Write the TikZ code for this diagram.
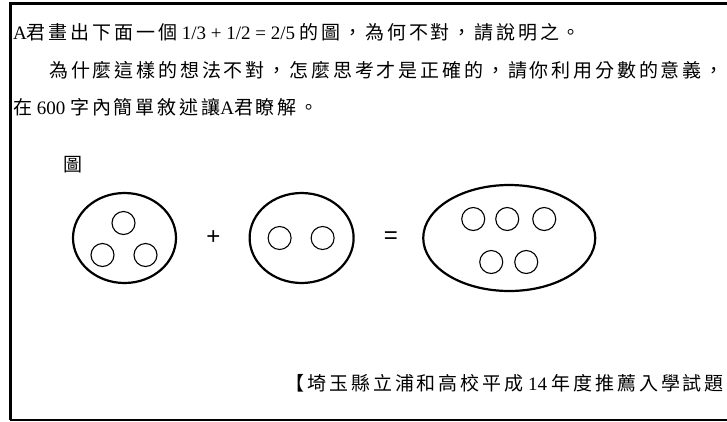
\documentclass[tikz,border=0pt]{standalone}
\usepackage{fontspec}
\setmainfont{Liberation Serif}
\newfontfamily\cjk{Noto Sans CJK TC}[LetterSpace=15]
\newfontfamily\opfont{Liberation Sans}
\usetikzlibrary{shapes,positioning}

\begin{document}
\begin{tikzpicture}[x=1pt, y=-1pt, node distance=28pt,
  txt/.style={anchor=west, inner sep=0pt, font=\fontsize{19}{19}\selectfont},
  bag/.style={draw, ellipse, line width=2.2pt, inner sep=0pt},
  ball/.style={draw, ellipse, line width=1.1pt, minimum width=23pt, minimum height=23pt, inner sep=0pt},
  op/.style={inner sep=0pt, font=\fontsize{24}{24}\selectfont\opfont}]
\useasboundingbox (0,0) rectangle (727,421);
%frame
\draw[line width=3pt] (727,3) -- (10,3) -- (10,419.5);
\draw[line width=2pt] (10,419.5) -- (727,419.5);
%text
\node[txt] (line1) at (13,32) {A{\cjk 君畫出下面一個} 1/3 + 1/2 = 2/5 {\cjk 的圖，為何不對，請說明之。}};
\node[txt] (line2) at (49,70) {{\cjk 為什麼這樣的想法不對，怎麼思考才是正確的，請你利用分數的意義，}};
\node[txt] (line3) at (13,107) {{\cjk 在} 600 {\cjk 字內簡單敘述讓}A{\cjk 君瞭解。}};
\node[txt] (fig) at (63,165) {{\cjk 圖}};
%figure
\node[bag, minimum width=103pt, minimum height=90pt] (third) at (124.5,238) {};
\node[op, right = 29pt of third] (plus) {+};
\node[bag, minimum width=104pt, minimum height=90pt, right = 28pt of plus] (half) {};
\node[op, right = 29pt of half] (equal) {=};
\node[bag, minimum width=172pt, minimum height=106pt, right = 24pt of equal] (sum) {};
\node[ball] (t1) at ([shift={(-1,-15)}]third.center) {};
\node[ball] (t2) at ([shift={(-22,17)}]third.center) {};
\node[ball] (t3) at ([shift={(21,17)}]third.center) {};
\node[ball] (h1) at ([shift={(-22,0)}]half.center) {};
\node[ball] (h2) at ([shift={(21,0)}]half.center) {};
\node[ball] (s1) at ([shift={(-36,-19)}]sum.center) {};
\node[ball] (s2) at ([shift={(-2,-19)}]sum.center) {};
\node[ball] (s3) at ([shift={(35,-19)}]sum.center) {};
\node[ball] (s4) at ([shift={(-18,24)}]sum.center) {};
\node[ball] (s5) at ([shift={(17,24)}]sum.center) {};
%source
\node[txt, anchor=east] (src) at (724,383) {{\cjk 【埼玉縣立浦和高校平成} 14 {\cjk 年度推薦入學試題}};
\end{tikzpicture}
\end{document}
